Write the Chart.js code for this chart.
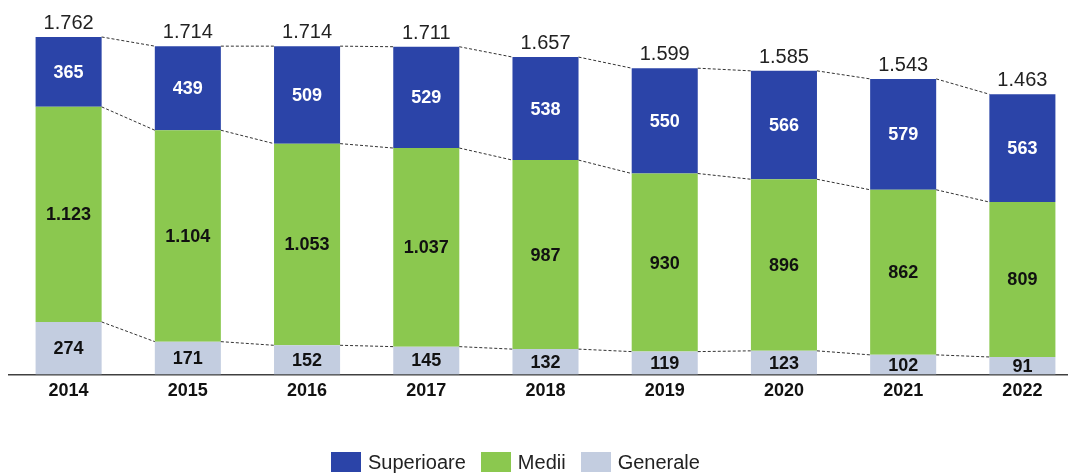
<!DOCTYPE html>
<html>
<head>
<meta charset="utf-8">
<script src="https://cdn.jsdelivr.net/npm/chart.js@4/dist/chart.umd.min.js"></script>
<style>
    html, body { margin: 0; padding: 0; background: #fff; overflow: hidden; }
    #wrap { position: absolute; left: 0; top: 0; width: 1092px; height: 473px; }
    #legend {
        position: absolute; left: 331px; top: 452px;
        display: flex; align-items: center;
        font-family: "Liberation Sans", Arial, sans-serif; font-size: 20px; color: #222;
    }
    .item { display: flex; align-items: center; margin-right: 15px; }
    .box { width: 30px; height: 20px; margin-right: 7px; }
    .item span { line-height: 20px; }
</style>
</head>
<body>
<div id="wrap"><canvas id="chart" width="1092" height="473"></canvas></div>
<div id="legend"></div>
<script>
const years = ['2014', '2015', '2016', '2017', '2018', '2019', '2020', '2021', '2022'];
const generale = [274, 171, 152, 145, 132, 119, 123, 102, 91];
const medii = [1123, 1104, 1053, 1037, 987, 930, 896, 862, 809];
const superioare = [365, 439, 509, 529, 538, 550, 566, 579, 563];

const FONT = '"Liberation Sans", Arial, sans-serif';

function fmt(n) {
    return String(n).replace(/\B(?=(\d{3})+(?!\d))/g, '.');
}

// dashed connectors between segment tops + value labels
const barExtras = {
    id: 'barExtras',
    afterDatasetsDraw(chart) {
        const ctx = chart.ctx;
        ctx.save();
        ctx.strokeStyle = '#333';
        ctx.lineWidth = 1;
        ctx.setLineDash([3, 2]);
        chart.data.datasets.forEach((ds, d) => {
            const bars = chart.getDatasetMeta(d).data;
            for (let i = 0; i < bars.length - 1; i++) {
                const a = bars[i], b = bars[i + 1];
                ctx.beginPath();
                ctx.moveTo(a.x + a.width / 2, a.y);
                ctx.lineTo(b.x - b.width / 2, b.y);
                ctx.stroke();
            }
        });
        ctx.setLineDash([]);

        ctx.textAlign = 'center';
        ctx.textBaseline = 'middle';
        ctx.font = 'bold 18px ' + FONT;
        chart.data.datasets.forEach((ds, d) => {
            ctx.fillStyle = ds.labelColor;
            chart.getDatasetMeta(d).data.forEach((bar, i) => {
                ctx.fillText(fmt(ds.data[i]), bar.x, (bar.y + bar.base) / 2 + 1);
            });
        });

        const top = chart.getDatasetMeta(chart.data.datasets.length - 1).data;
        ctx.font = '20px ' + FONT;
        ctx.fillStyle = '#222';
        ctx.textBaseline = 'alphabetic';
        top.forEach((bar, i) => {
            const total = generale[i] + medii[i] + superioare[i];
            ctx.fillText(fmt(total), bar.x, bar.y - 8);
        });
        ctx.restore();
    }
};

const chart = new Chart(document.getElementById('chart'), {
    type: 'bar',
    data: {
        labels: years,
        datasets: [
            { label: 'Generale', data: generale, backgroundColor: '#c3cde0', labelColor: '#111' },
            { label: 'Medii', data: medii, backgroundColor: '#8bc84f', labelColor: '#111' },
            { label: 'Superioare', data: superioare, backgroundColor: '#2b44a8', labelColor: '#fff' }
        ]
    },
    options: {
        responsive: false,
        animation: false,
        categoryPercentage: 1,
        barPercentage: 0.554,
        layout: { padding: { left: 9, right: 10, top: 0, bottom: 65 } },
        plugins: {
            legend: { display: false },
            tooltip: { enabled: false }
        },
        scales: {
            x: {
                stacked: true,
                grid: { display: false, drawTicks: false },
                border: { display: true, color: '#404040', width: 1.5 },
                ticks: {
                    padding: 6,
                    color: '#111',
                    font: { family: FONT, size: 18, weight: 'bold' }
                }
            },
            y: {
                stacked: true,
                display: false,
                min: 0,
                max: 1955
            }
        }
    },
    plugins: [barExtras]
});

// legend in the reference's order
const legend = document.getElementById('legend');
chart.data.datasets.slice().reverse().forEach(ds => {
    const item = document.createElement('div');
    item.className = 'item';
    item.innerHTML = `<div class="box" style="background:${ds.backgroundColor}"></div><span>${ds.label}</span>`;
    legend.appendChild(item);
});
</script>
</body>
</html>
